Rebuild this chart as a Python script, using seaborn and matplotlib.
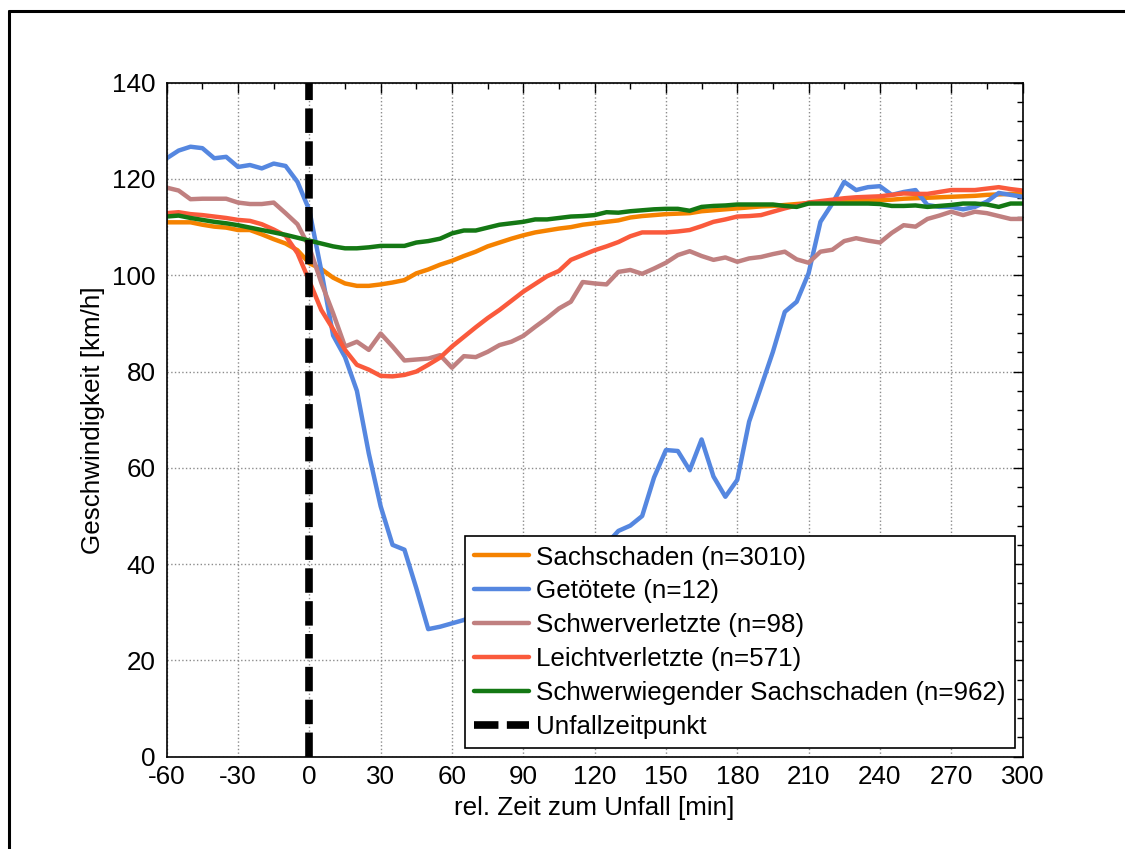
import numpy as np
import pandas as pd
import matplotlib
matplotlib.use('Agg')
import matplotlib.pyplot as plt
import seaborn as sns
from matplotlib.lines import Line2D
from matplotlib.ticker import MultipleLocator

# minutes relative to the accident, one value every 5 min
minutes = list(range(-60, 301, 5))

sachschaden = [111.0, 111.0, 111.0, 110.5, 110.1, 109.9, 109.4, 109.4, 108.5, 107.5, 106.6, 105.2,
               102.5, 101.3, 99.5, 98.3, 97.8, 97.8, 98.1, 98.5, 99.0, 100.4, 101.2, 102.2,
               103.0, 104.0, 104.9, 106.0, 106.8, 107.6, 108.3, 108.9, 109.3, 109.7, 110.0, 110.5,
               110.8, 111.1, 111.4, 112.0, 112.3, 112.5, 112.7, 112.8, 112.9, 113.3, 113.5, 113.7,
               113.9, 114.1, 114.3, 114.4, 114.6, 114.8, 115.0, 115.1, 115.2, 115.3, 115.4, 115.5,
               115.6, 115.7, 115.9, 116.0, 116.1, 116.2, 116.3, 116.4, 116.5, 116.7, 116.8, 116.9,
               117.0]
getoetete = [124.3, 125.9, 126.7, 126.4, 124.3, 124.6, 122.5, 122.9, 122.2, 123.2, 122.7, 119.4,
             113.5, 101.0, 87.5, 83.0, 76.0, 63.0, 52.0, 44.0, 43.0, 35.0, 26.5, 27.0,
             27.7, 28.4, 29.5, 30.2, 32.8, 31.6, 34.0, 35.1, 34.6, 37.2, 38.5, 40.9,
             41.8, 44.2, 46.9, 48.0, 50.0, 58.0, 63.7, 63.5, 59.5, 65.9, 58.2, 54.0,
             57.5, 69.6, 76.8, 84.1, 92.4, 94.5, 100.4, 111.1, 114.9, 119.4, 117.7, 118.3,
             118.5, 116.7, 117.3, 117.7, 114.6, 114.2, 114.2, 113.7, 114.2, 115.3, 117.1, 116.7,
             116.3]
schwerverletzte = [118.2, 117.6, 115.8, 115.9, 115.9, 115.9, 115.1, 114.8, 114.8, 115.1, 112.9, 110.6,
                   105.8, 98.5, 92.1, 85.2, 86.2, 84.5, 87.9, 85.2, 82.3, 82.5, 82.7, 83.4,
                   80.8, 83.2, 83.0, 84.1, 85.5, 86.2, 87.4, 89.3, 91.1, 93.1, 94.5, 98.6,
                   98.3, 98.1, 100.7, 101.1, 100.3, 101.4, 102.6, 104.2, 105.0, 104.0, 103.2, 103.7,
                   102.8, 103.5, 103.8, 104.4, 104.9, 103.3, 102.6, 104.9, 105.3, 107.1, 107.7, 107.2,
                   106.8, 108.8, 110.4, 110.1, 111.7, 112.4, 113.2, 112.5, 113.2, 112.9, 112.3, 111.7,
                   111.7]
leichtverletzte = [112.9, 113.1, 112.7, 112.5, 112.2, 111.9, 111.5, 111.3, 110.6, 109.5, 108.2, 104.6,
                   98.8, 92.8, 88.8, 84.5, 81.4, 80.4, 79.1, 79.0, 79.3, 80.0, 81.4, 82.9,
                   85.2, 87.2, 89.2, 91.1, 92.8, 94.7, 96.6, 98.2, 99.8, 100.9, 103.2, 104.2,
                   105.2, 106.0, 106.9, 108.1, 108.9, 108.9, 108.9, 109.1, 109.4, 110.2, 111.1, 111.6,
                   112.2, 112.3, 112.5, 113.2, 113.9, 114.5, 115.1, 115.4, 115.7, 116.0, 116.2, 116.3,
                   116.4, 116.7, 117.0, 116.9, 116.9, 117.3, 117.7, 117.7, 117.7, 118.0, 118.3, 117.9,
                   117.6]
schwerwiegend = [112.2, 112.4, 111.9, 111.5, 111.1, 110.8, 110.4, 109.9, 109.4, 108.9, 108.4, 107.8,
                 107.2, 106.6, 106.0, 105.6, 105.6, 105.8, 106.1, 106.1, 106.1, 106.8, 107.1, 107.6,
                 108.7, 109.3, 109.3, 109.9, 110.5, 110.8, 111.1, 111.6, 111.6, 111.9, 112.2, 112.3,
                 112.5, 113.1, 113.0, 113.3, 113.5, 113.7, 113.8, 113.8, 113.4, 114.2, 114.4, 114.5,
                 114.7, 114.7, 114.7, 114.7, 114.4, 114.2, 114.9, 114.9, 114.9, 114.9, 114.9, 114.9,
                 114.8, 114.4, 114.4, 114.5, 114.2, 114.4, 114.6, 114.9, 114.9, 114.7, 114.2, 114.9,
                 114.9]

labels = ['Sachschaden (n=3010)', 'Getötete (n=12)', 'Schwerverletzte (n=98)',
          'Leichtverletzte (n=571)', 'Schwerwiegender Sachschaden (n=962)']
colors = ['#F58200', '#5587E0', '#C08080', '#FA5A3C', '#147814']


def main():
    df = pd.DataFrame({'min': minutes})
    for lab, vals in zip(labels, [sachschaden, getoetete, schwerverletzte, leichtverletzte, schwerwiegend]):
        df[lab] = vals
    df = df.melt(id_vars='min', var_name='group', value_name='kmh')

    sns.set_style('white')
    plt.rcParams['font.family'] = ['Liberation Sans', 'DejaVu Sans']
    plt.rcParams['axes.unicode_minus'] = False
    plt.rcParams['text.color'] = 'k'
    plt.rcParams['axes.labelcolor'] = 'k'
    fs = 18.7

    fig = plt.figure(figsize=(11.25, 8.49), dpi=100)
    ax = fig.add_axes([0.1482, 0.1087, 0.7607, 0.7939])

    sns.lineplot(data=df, x='min', y='kmh', hue='group', hue_order=labels, palette=colors,
                 lw=3.2, errorbar=None, legend=False, ax=ax)
    ax.axvline(0, color='k', lw=5.5, dashes=(3.2, 1.1))

    ax.set_xlim(-60, 300)
    ax.set_ylim(0, 140)
    ax.xaxis.set_major_locator(MultipleLocator(30))
    ax.xaxis.set_minor_locator(MultipleLocator(15))
    ax.yaxis.set_major_locator(MultipleLocator(20))
    ax.yaxis.set_minor_locator(MultipleLocator(4))
    ax.tick_params(which='both', direction='in', top=True, right=True, labelsize=fs,
                   colors='k', labelcolor='k')
    ax.tick_params(which='major', length=7, width=1)
    ax.tick_params(which='minor', length=4, width=1)
    ax.tick_params(axis='y', pad=8)
    ax.tick_params(axis='x', pad=6)
    ax.grid(which='major', color='#8c8c8c', ls=':', lw=1)
    for sp in ax.spines.values():
        sp.set_color('k')
        sp.set_linewidth(1.2)

    ax.set_xlabel('rel. Zeit zum Unfall [min]', fontsize=fs, labelpad=5)
    ax.set_ylabel('Geschwindigkeit [km/h]', fontsize=fs, labelpad=5)

    handles = ax.get_lines()[:6]
    leg = ax.legend(handles, labels + ['Unfallzeitpunkt'], loc='lower right',
                    bbox_to_anchor=(0.9912, 0.0129), borderaxespad=0, fontsize=fs,
                    handlelength=2.1, handletextpad=0.3, labelspacing=0.38, borderpad=0.35,
                    frameon=True, fancybox=False, framealpha=1)
    leg.get_frame().set_edgecolor('k')
    leg.get_frame().set_linewidth(1.2)

    # outer frame of the figure (only top and left edges are visible)
    fig.add_artist(Line2D([9 / 1125, 9 / 1125], [0, 1 - 11 / 849], color='k', lw=2.2,
                          transform=fig.transFigure))
    fig.add_artist(Line2D([9 / 1125, 1], [1 - 11 / 849, 1 - 11 / 849], color='k', lw=2.2,
                          transform=fig.transFigure))

    fig.savefig('out.png', dpi=100)


if __name__ == '__main__':
    main()
